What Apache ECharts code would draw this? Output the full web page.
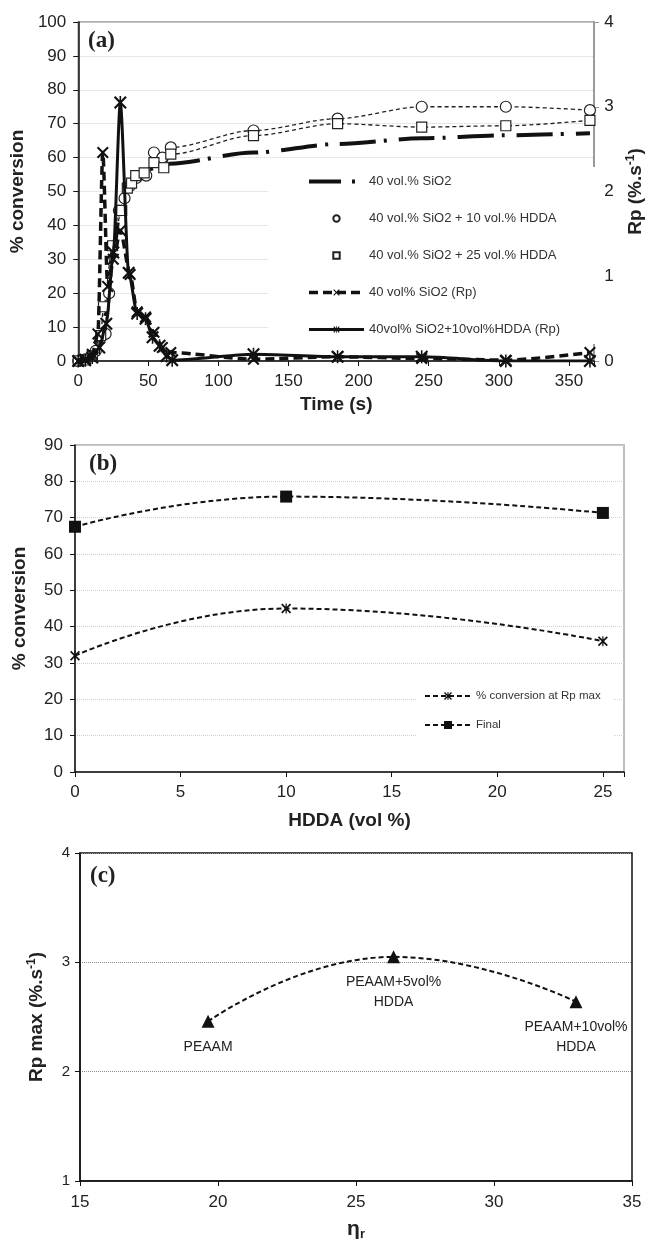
<!DOCTYPE html>
<html><head><meta charset="utf-8">
<script src="https://cdn.jsdelivr.net/npm/echarts@6/dist/echarts.min.js"></script>
<style>html,body{margin:0;padding:0;background:#fff}#c{width:653px;height:1242px}</style>
</head><body><div id="c"></div>
<script>
// ---------- Panel (a): conversion and Rp vs time ----------
const seriesNamesA = ['40 vol.% SiO2', '40 vol.% SiO2 + 10 vol.% HDDA', '40 vol.% SiO2 + 25 vol.% HDDA', '40 vol% SiO2 (Rp)', '40vol% SiO2+10vol%HDDA (Rp)'];

const tSiO2 = [0, 5, 10, 15, 20, 25, 30, 35, 40, 45, 50, 55, 60, 65, 125, 185, 245, 305, 365];
const convSiO2 = [0, 0.3, 1, 4, 14, 32, 45, 51, 54, 55.5, 56.5, 57, 57.5, 58.2, 61.5, 64, 65.7, 66.6, 67.2];

const tHDDA10 = [0, 5, 12.5, 19.5, 22, 29, 33, 37, 41.5, 48.5, 54, 60, 66, 125, 185, 245, 305, 365];
const convHDDA10 = [0, 0.5, 3, 8, 20, 44.4, 48, 51.7, 54, 54.7, 61.5, 60, 63, 68, 71.5, 75, 75, 74];

const tHDDA25 = [0, 5, 10, 16, 18, 24.5, 31, 35, 38, 41, 47, 54, 61, 66, 125, 185, 245, 305, 365];
const convHDDA25 = [0, 0.3, 1.5, 7.5, 16, 34, 44.4, 51, 52.5, 54.7, 55.5, 58.5, 57, 61, 66.5, 70, 69, 69.4, 71];

const tRpSiO2 = [0, 5, 10, 14, 17.5, 21, 25, 30, 37, 42, 48, 54, 60, 66, 125, 185, 245, 305, 365];
const rpSiO2 = [0, 0.02, 0.08, 0.32, 2.46, 0.88, 1.2, 1.54, 1.02, 0.58, 0.52, 0.34, 0.16, 0.1, 0.02, 0.05, 0.03, 0.01, 0.1];

const tRpHDDA = [0, 5, 10, 15, 20, 25, 30, 36, 42, 48, 53, 58, 63, 67, 125, 185, 245, 305, 365];
const rpHDDA = [0, 0.01, 0.04, 0.16, 0.44, 1.28, 3.05, 1.04, 0.56, 0.5, 0.28, 0.18, 0.06, 0.01, 0.08, 0.05, 0.05, 0, 0];

// ---------- Panel (b): conversion vs HDDA ----------
const seriesNamesB = ['% conversion at Rp max', 'Final'];
const hddaVol = [0, 10, 25];
const convAtRpMax = [32, 45, 36];
const convFinal = [67.5, 75.8, 71.3];

// ---------- Panel (c): Rp max vs eta_r ----------
const etaR = [19.64, 26.36, 32.97];
const rpMax = [2.46, 3.05, 2.64];
const sampleLabels = ['PEAAM', 'PEAAM+5vol%\nHDDA', 'PEAAM+10vol%\nHDDA'];

const FONT = '"Liberation Sans", Arial, sans-serif';
const SERIF = '"Liberation Serif", "Times New Roman", serif';
const INK = '#222';
const zip = (xs, ys) => xs.map((x, i) => [x, ys[i]]);

const X_PATH = 'path://M0,1.2L1.2,0L5,3.8L8.8,0L10,1.2L6.2,5L10,8.8L8.8,10L5,6.2L1.2,10L0,8.8L3.8,5Z';
const AST_PATH = X_PATH + 'M4.4,0L5.6,0L5.6,10L4.4,10Z';

function axis(o) {
  const base = {
    type: 'value',
    axisLine: {show: true, onZero: false, lineStyle: {color: '#111', width: 1.5}},
    axisTick: {show: true, inside: false, length: 5, lineStyle: {color: '#111', width: 1}},
    axisLabel: {fontSize: 17, color: INK, fontFamily: FONT},
    splitLine: {show: false},
    nameLocation: 'middle',
    nameTextStyle: {fontSize: 19, fontWeight: 'bold', color: INK, fontFamily: FONT}
  };
  for (const k in o) {
    if (base[k] && typeof base[k] === 'object' && !Array.isArray(base[k])) base[k] = Object.assign({}, base[k], o[k]);
    else base[k] = o[k];
  }
  return base;
}
const stepFmt = s => v => (Math.abs(v / s - Math.round(v / s)) < 1e-9 ? String(v) : '');
const grid = {color: '#cfcfcf', type: 'dotted', width: 1};

const option = {
  backgroundColor: '#fff',
  animation: false,
  textStyle: {fontFamily: FONT},
  grid: [
    {left: 72, top: 22, width: 530, height: 339, show: true, borderColor: '#9a9a9a', borderWidth: 1.5},
    {left: 75, top: 445, width: 549, height: 327, show: true, borderColor: '#aaaaaa', borderWidth: 1.5},
    {left: 80, top: 853, width: 552, height: 330, show: true, borderColor: '#111', borderWidth: 1.5}
  ],
  xAxis: [
    axis({gridIndex: 0, min: 0, max: 368, interval: 50, name: 'Time (s)', nameGap: 34,
      axisLabel: {margin: 12, formatter: stepFmt(50)}}),
    axis({gridIndex: 1, min: 0, max: 26, interval: 5, name: 'HDDA (vol %)', nameGap: 39,
      axisLabel: {margin: 12, formatter: stepFmt(5)}}),
    axis({gridIndex: 2, min: 15, max: 35, interval: 5, nameGap: 36,
      name: '{e|η}{s|r}',
      nameTextStyle: {rich: {e: {fontSize: 21, fontWeight: 'bold', color: INK, fontFamily: FONT},
        s: {fontSize: 13, fontWeight: 'bold', color: INK, fontFamily: FONT, padding: [11, 0, 0, 0]}}},
      axisLabel: {margin: 13}})
  ],
  yAxis: [
    axis({gridIndex: 0, min: 0, max: 100, interval: 10, name: '% conversion', nameGap: 44,
      axisLabel: {margin: 12}, splitLine: {show: true, lineStyle: grid}}),
    axis({gridIndex: 0, position: 'right', min: 0, max: 4, interval: 1, nameGap: 29, nameRotate: 90,
      axisLine: {show: true, lineStyle: {color: '#9a9a9a', width: 2}},
      axisTick: {show: true, length: 5, lineStyle: {color: '#9a9a9a'}},
      axisLabel: {margin: 10},
      name: '{b|Rp (%.s}{p|-1}{b|)}',
      nameTextStyle: {rich: {b: {fontSize: 19, fontWeight: 'bold', color: INK, fontFamily: FONT},
        p: {fontSize: 12, fontWeight: 'bold', color: INK, fontFamily: FONT, padding: [0, 0, 10, 0]}}}}),
    axis({gridIndex: 1, min: 0, max: 90, interval: 10, name: '% conversion', nameGap: 46,
      axisLabel: {margin: 12}, splitLine: {show: true, lineStyle: grid}}),
    axis({gridIndex: 2, min: 1, max: 4, interval: 1, nameGap: 32,
      axisLabel: {margin: 10, fontSize: 15},
      splitLine: {show: true, lineStyle: {color: '#8a8a8a', type: 'dotted', width: 1}},
      name: '{b|Rp max (%.s}{p|-1}{b|)}',
      nameTextStyle: {rich: {b: {fontSize: 19, fontWeight: 'bold', color: INK, fontFamily: FONT},
        p: {fontSize: 12, fontWeight: 'bold', color: INK, fontFamily: FONT, padding: [0, 0, 10, 0]}}}})
  ],
  legend: [
    {orient: 'vertical', left: 268, top: 167, padding: [8, 40, 8, 39], itemGap: 24, itemWidth: 55, itemHeight: 8,
      backgroundColor: '#fff', selectedMode: false,
      textStyle: {fontSize: 13, color: '#333', fontFamily: FONT},
      data: [
        {name: seriesNamesA[0], itemStyle: {opacity: 0}, lineStyle: {type: [32, 11, 3, 20], width: 4}},
        {name: seriesNamesA[1], lineStyle: {opacity: 0}},
        {name: seriesNamesA[2], lineStyle: {opacity: 0}},
        {name: seriesNamesA[3], lineStyle: {width: 3.5, type: [9, 5]}},
        {name: seriesNamesA[4], lineStyle: {width: 3}}
      ]},
    {orient: 'vertical', left: 416, top: 677, padding: [13, 13, 8, 8], itemGap: 17, itemWidth: 46, itemHeight: 10,
      backgroundColor: '#fff', selectedMode: false,
      textStyle: {fontSize: 11.5, color: '#333', fontFamily: FONT},
      data: seriesNamesB.map(n => ({name: n}))}
  ],
  graphic: [
    {type: 'text', left: 88, top: 30, z: 10, style: {text: '(a)', font: 'bold 23px ' + SERIF, fill: INK}},
    {type: 'text', left: 89, top: 453, z: 10, style: {text: '(b)', font: 'bold 23px ' + SERIF, fill: INK}},
    {type: 'text', left: 90, top: 865, z: 10, style: {text: '(c)', font: 'bold 23px ' + SERIF, fill: INK}}
  ],
  series: [
    {name: seriesNamesA[0], type: 'line', xAxisIndex: 0, yAxisIndex: 0, data: zip(tSiO2, convSiO2),
      smooth: 0.3, smoothMonotone: 'x', symbol: 'none', z: 3,
      itemStyle: {color: '#111'}, lineStyle: {color: '#111', width: 4, type: [36, 8, 3, 12]}},
    {name: seriesNamesA[1], type: 'line', xAxisIndex: 0, yAxisIndex: 0, data: zip(tHDDA10, convHDDA10),
      smooth: 0.3, smoothMonotone: 'x', symbol: 'circle', symbolSize: 11, showAllSymbol: true, z: 4,
      itemStyle: {color: '#fff', borderColor: '#222', borderWidth: 1.2},
      lineStyle: {color: '#222', width: 1.3, type: [4, 3]}},
    {name: seriesNamesA[2], type: 'line', xAxisIndex: 0, yAxisIndex: 0, data: zip(tHDDA25, convHDDA25),
      smooth: 0.3, smoothMonotone: 'x', symbol: 'rect', symbolSize: 10, showAllSymbol: true, z: 4,
      itemStyle: {color: '#fff', borderColor: '#222', borderWidth: 1.2},
      lineStyle: {color: '#222', width: 1.3, type: [4, 3]}},
    {name: seriesNamesA[3], type: 'line', xAxisIndex: 0, yAxisIndex: 1, data: zip(tRpSiO2, rpSiO2),
      smooth: 0.25, smoothMonotone: 'x', symbol: X_PATH, symbolSize: 12, showAllSymbol: true, z: 5,
      itemStyle: {color: '#111'}, lineStyle: {color: '#111', width: 3.5, type: [9, 5]}},
    {name: seriesNamesA[4], type: 'line', xAxisIndex: 0, yAxisIndex: 1, data: zip(tRpHDDA, rpHDDA),
      smooth: 0.25, smoothMonotone: 'x', symbol: AST_PATH, symbolSize: 13, showAllSymbol: true, z: 5,
      itemStyle: {color: '#111'}, lineStyle: {color: '#111', width: 3}},

    {name: seriesNamesB[0], type: 'line', xAxisIndex: 1, yAxisIndex: 2, data: zip(hddaVol, convAtRpMax),
      smooth: 0.5, symbol: AST_PATH, symbolSize: 10, itemStyle: {color: '#111'},
      lineStyle: {color: '#111', width: 2, type: [5, 3]}},
    {name: seriesNamesB[1], type: 'line', xAxisIndex: 1, yAxisIndex: 2, data: zip(hddaVol, convFinal),
      smooth: 0.5, symbol: 'rect', symbolSize: 12, itemStyle: {color: '#111'},
      lineStyle: {color: '#111', width: 2, type: [5, 3]}},

    {name: 'Rp max', type: 'line', xAxisIndex: 2, yAxisIndex: 3, data: zip(etaR, rpMax),
      smooth: 0.5, symbol: 'triangle', symbolSize: 13, itemStyle: {color: '#111'},
      lineStyle: {color: '#111', width: 2, type: [5, 3]},
      label: {show: true, position: 'bottom', distance: 9, fontSize: 14, lineHeight: 20, color: INK,
        fontFamily: FONT, formatter: p => sampleLabels[p.dataIndex]}}
  ]
};

const chart = echarts.init(document.getElementById('c'), null, {renderer: 'canvas'});
chart.setOption(option);
</script>
</body></html>
